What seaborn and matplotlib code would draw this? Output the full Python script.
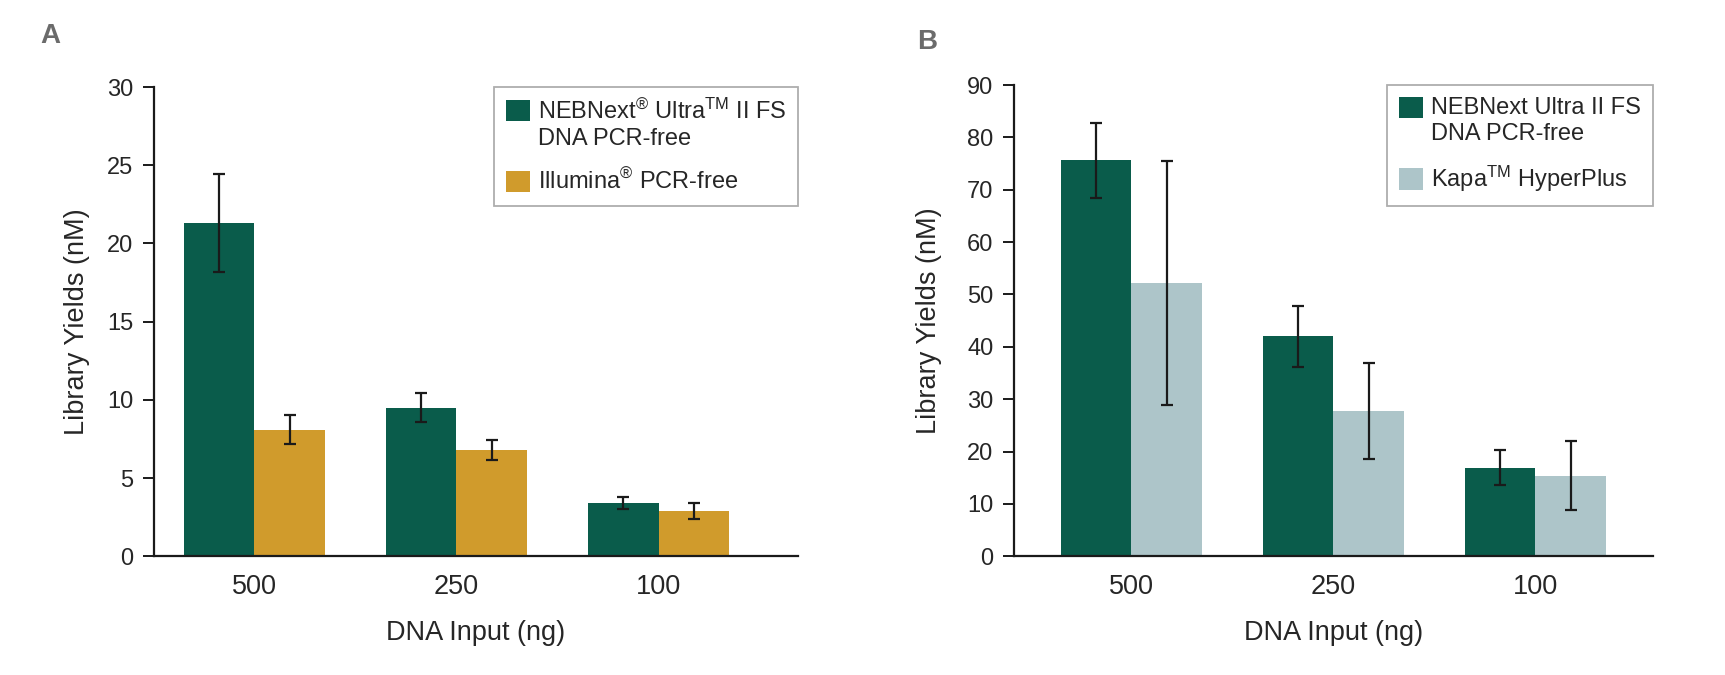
import numpy as np
import pandas as pd
import matplotlib
matplotlib.use("Agg")
import matplotlib.pyplot as plt
from matplotlib.patches import Rectangle
from matplotlib.legend_handler import HandlerPatch
import seaborn as sns

sns.set_style("ticks")
plt.rcParams["font.family"] = ["Liberation Sans", "DejaVu Sans"]

# Data
inputs = ["500", "250", "100"]

a_kits = ["NEBNext$^{\\circledR}$ Ultra$^{\\mathrm{TM}}$ II FS\nDNA PCR-free",
          "Illumina$^{\\circledR}$ PCR-free"]
a_neb = [21.3, 9.5, 3.4]
a_neb_err = [3.15, 0.95, 0.4]
a_ill = [8.1, 6.8, 2.9]
a_ill_err = [0.95, 0.65, 0.5]

b_kits = ["NEBNext Ultra II FS\nDNA PCR-free", "Kapa$^{\\mathrm{TM}}$ HyperPlus"]
b_neb = [75.6, 42.0, 16.9]
b_neb_err = [7.2, 5.8, 3.3]
b_kapa = [52.1, 27.7, 15.4]
b_kapa_err = [23.3, 9.2, 6.6]

green = "#0a5c4b"
gold = "#d09b2c"
lightblue = "#adc5c9"

plt.rcParams["mathtext.fontset"] = "custom"
plt.rcParams["mathtext.rm"] = "Liberation Sans"
plt.rcParams["mathtext.it"] = "Liberation Sans:italic"
plt.rcParams["mathtext.bf"] = "Liberation Sans:bold"


class TopSquare(HandlerPatch):
    # square handle lined up with the first line of a two-line label
    def __init__(self, shift):
        super().__init__()
        self.shift = shift

    def create_artists(self, legend, orig_handle, xdescent, ydescent,
                       width, height, fontsize, trans):
        p = Rectangle((-xdescent, -ydescent + self.shift * fontsize), width, height,
                      facecolor=orig_handle.get_facecolor(), edgecolor="none",
                      transform=trans)
        return [p]


def panel(ax, kits, v1, e1, v2, e2, colors, ymax, step, xlim, letter, lx, ly, ylx):
    df = pd.DataFrame({
        "DNA Input (ng)": inputs * 2,
        "Yield": v1 + v2,
        "Kit": [kits[0]] * 3 + [kits[1]] * 3,
    })
    sns.barplot(data=df, x="DNA Input (ng)", y="Yield", hue="Kit",
                palette=colors, errorbar=None, width=0.7, saturation=1,
                ax=ax, linewidth=0)
    errs = e1 + e2
    vals = v1 + v2
    bars = [p for p in ax.patches if p.get_height() > 0][:6]
    xs = [b.get_x() + b.get_width() / 2 for b in bars]
    ax.errorbar(xs, vals, yerr=errs, fmt="none", ecolor="#1a1a1a",
                elinewidth=1.6, capsize=4, capthick=1.6)
    ax.set_ylim(0, ymax)
    ax.set_yticks(np.arange(0, ymax + 1, step))
    ax.set_xlim(*xlim)
    sns.despine(ax=ax)
    for s in ["left", "bottom"]:
        ax.spines[s].set_linewidth(1.6)
        ax.spines[s].set_color("#1a1a1a")
    ax.tick_params(axis="y", labelsize=17, length=8, width=1.4, color="#1a1a1a", pad=7)
    ax.tick_params(axis="x", labelsize=19.5, length=0, pad=13)
    ax.set_ylabel("Library Yields (nM)", fontsize=19.5)
    ax.yaxis.set_label_coords(ylx, 0.5)
    ax.set_xlabel("DNA Input (ng)", fontsize=19.5, labelpad=14)
    handles, labels = ax.get_legend_handles_labels()
    leg = ax.legend(handles, labels, loc="upper right", fontsize=17, frameon=True,
                    fancybox=False, edgecolor="#9a9a9a", handlelength=1.0,
                    handleheight=1.0, handletextpad=0.35, borderpad=0.5,
                    labelspacing=0.8, borderaxespad=0.0,
                    handler_map={handles[0]: TopSquare(0.6)})
    leg.get_frame().set_linewidth(1.3)
    for t in leg.get_texts():
        t.set_linespacing(1.25)
    ax.text(lx, ly, letter, transform=ax.transAxes, fontsize=20, ha="center",
            va="center", fontweight="bold", color="#6b6b6b")


fig = plt.figure(figsize=(17.25, 6.75), dpi=100)
ax1 = fig.add_axes([0.0893, 0.176, 0.3733, 0.695])
ax2 = fig.add_axes([0.588, 0.176, 0.370, 0.698])

panel(ax1, a_kits, a_neb, a_neb_err, a_ill, a_ill_err, [green, gold], 30, 5,
      (-0.496, 2.69), "A", -0.161, 1.109, -0.10)
panel(ax2, b_kits, b_neb, b_neb_err, b_kapa, b_kapa_err, [green, lightblue], 90, 10,
      (-0.58, 2.58), "B", -0.136, 1.091, -0.113)

fig.savefig("out.png", dpi=100, facecolor="white")
